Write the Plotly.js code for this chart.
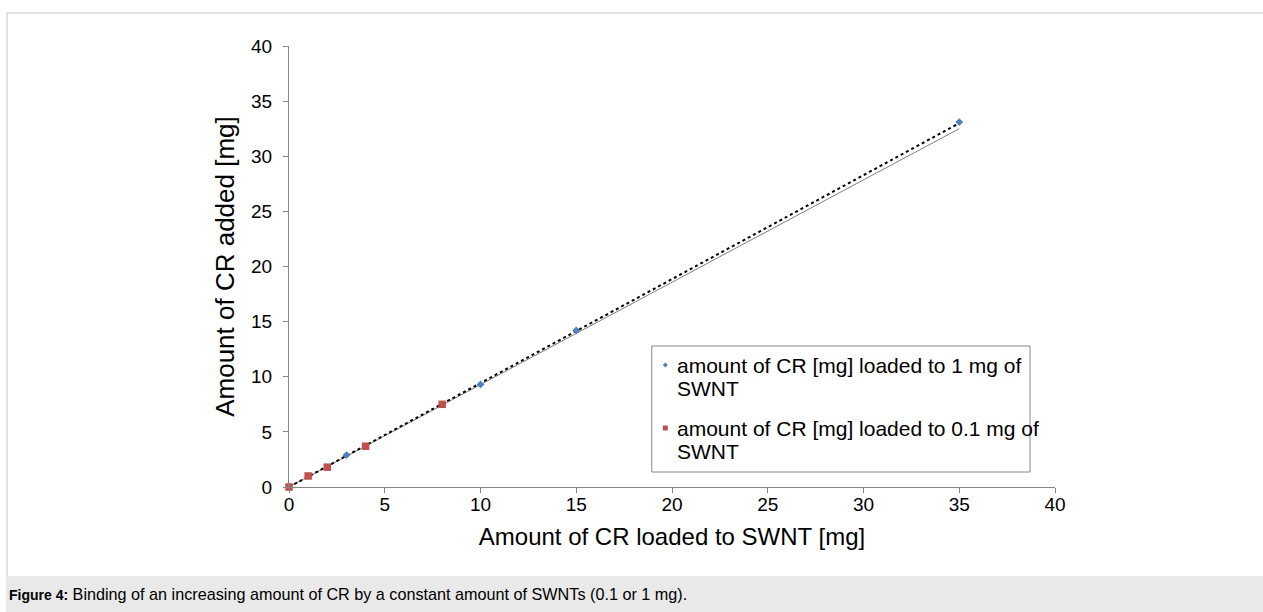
<!DOCTYPE html>
<html>
<head>
<meta charset="utf-8">
<script src="https://cdn.plot.ly/plotly-3.0.1.min.js"></script>
<style>
  html, body { margin: 0; padding: 0; width: 1263px; height: 612px; overflow: hidden; background: #fff; font-family: "Liberation Sans", Arial, sans-serif; }
  #frame { position: absolute; left: 6px; top: 12px; width: 1263px; height: 600px; border-top: 2px solid #e2e2e2; border-left: 2px solid #e2e2e2; box-sizing: border-box; }
  #caption { position: absolute; left: 6px; top: 576px; width: 1257px; height: 36px; background: #e9e9e9; font-size: 16.2px; color: #000; line-height: 36px; padding-left: 3px; box-sizing: border-box; white-space: nowrap; }
  #caption b { font-size: 14px; }
  #chart { position: absolute; left: 0; top: 0; width: 1263px; height: 612px; }
</style>
</head>
<body>
<div id="frame"></div>
<div id="chart"></div>
<div id="caption"><b>Figure 4:</b> Binding of an increasing amount of CR by a constant amount of SWNTs (0.1 or 1 mg).</div>
<script>
// CR binding on 1 mg SWNT (blue diamonds)
const loaded1mg = [0, 3, 10, 15, 35];
const added1mg = [0, 2.9, 9.3, 14.2, 33.1];

// CR binding on 0.1 mg SWNT (red squares)
const loaded01mg = [0, 1, 2, 4, 8];
const added01mg = [0, 1.0, 1.8, 3.7, 7.5];

// linear trend lines (end points)
const trendX = [0, 35];
const trendDottedY = [0, 33.0];
const trendSolidY = [0, 32.5];

const legendLines = [
  ["amount of CR [mg] loaded to 1 mg of", "SWNT"],
  ["amount of CR [mg] loaded to 0.1 mg of", "SWNT"]
];

const ticks = [0, 5, 10, 15, 20, 25, 30, 35, 40];

const traces = [
  { x: trendX, y: trendSolidY, mode: "lines", line: { color: "#7f7f7f", width: 1 }, showlegend: false, hoverinfo: "skip" },
  { x: trendX, y: trendDottedY, mode: "lines", line: { color: "#000", width: 2, dash: "dot" }, showlegend: false, hoverinfo: "skip" },
  { x: loaded1mg, y: added1mg, mode: "markers", cliponaxis: false, name: legendLines[0].join(" "), marker: { symbol: "diamond", size: 6, color: "#4f81bd" }, showlegend: false },
  { x: loaded01mg, y: added01mg, mode: "markers", cliponaxis: false, name: legendLines[1].join(" "), marker: { symbol: "square", size: 7.5, color: "#c0504d" }, showlegend: false }
];

// plot area in px: x 289.4..1055, y 46..487
const L = 289.4, R = 1055, T = 46, B = 487;
const px = (v) => (v - L) / (R - L);
const py = (v) => (B - v) / (B - T);

// legend box, symbols and text (px positions mapped to paper space)
const legBox = { x0: 652, x1: 1030, y0: 346, y1: 472 };
function diamond(cx, cy, r) {
  return `M${px(cx)},${py(cy - r)} L${px(cx + r)},${py(cy)} L${px(cx)},${py(cy + r)} L${px(cx - r)},${py(cy)} Z`;
}
const shapes = [
  { type: "rect", xref: "paper", yref: "paper", x0: px(legBox.x0), x1: px(legBox.x1), y0: py(legBox.y1), y1: py(legBox.y0), line: { color: "#868686", width: 1 }, fillcolor: "#fff", layer: "above" },
  { type: "path", xref: "paper", yref: "paper", path: diamond(665.5, 365, 2.5), fillcolor: "#4f81bd", line: { width: 0 }, layer: "above" },
  { type: "rect", xref: "paper", yref: "paper", x0: px(663), x1: px(668), y0: py(430.5), y1: py(425.5), fillcolor: "#c0504d", line: { width: 0 }, layer: "above" }
];

const lineYs = [[365, 388.5], [428, 451.5]];
const annotations = [];
legendLines.forEach((lines, i) => {
  lines.forEach((t, j) => {
    annotations.push({ xref: "paper", yref: "paper", x: px(675), y: py(lineYs[i][j]), xanchor: "left", yanchor: "middle", align: "left", showarrow: false, text: t, font: { size: 21, color: "#000" } });
  });
});

const axisCommon = {
  range: [0, 40], tickvals: ticks, ticktext: ticks.map(String),
  showgrid: false, zeroline: false, showline: true, linecolor: "#868686", linewidth: 1,
  ticks: "outside", ticklen: 5, tickcolor: "#868686", tickwidth: 1,
  tickfont: { size: 19, color: "#000", family: "Liberation Sans, Arial, sans-serif" },
  fixedrange: true
};

const layout = {
  width: 1263, height: 612,
  margin: { l: L, r: 1263 - R, t: T, b: 612 - B },
  paper_bgcolor: "rgba(0,0,0,0)", plot_bgcolor: "rgba(0,0,0,0)",
  font: { family: "Liberation Sans, Arial, sans-serif", color: "#000" },
  showlegend: false,
  xaxis: Object.assign({}, axisCommon, {
    ticklabelstandoff: -5,
    title: { text: "Amount of CR loaded to SWNT [mg]", font: { size: 24, color: "#000" }, standoff: 14 }
  }),
  yaxis: Object.assign({}, axisCommon, {
    ticklabelstandoff: 7,
    title: { text: "Amount of CR added [mg]", font: { size: 26, color: "#000" }, standoff: 8 }
  }),
  shapes: shapes,
  annotations: annotations
};

Plotly.newPlot("chart", traces, layout, { staticPlot: true, displayModeBar: false });
</script>
</body>
</html>
